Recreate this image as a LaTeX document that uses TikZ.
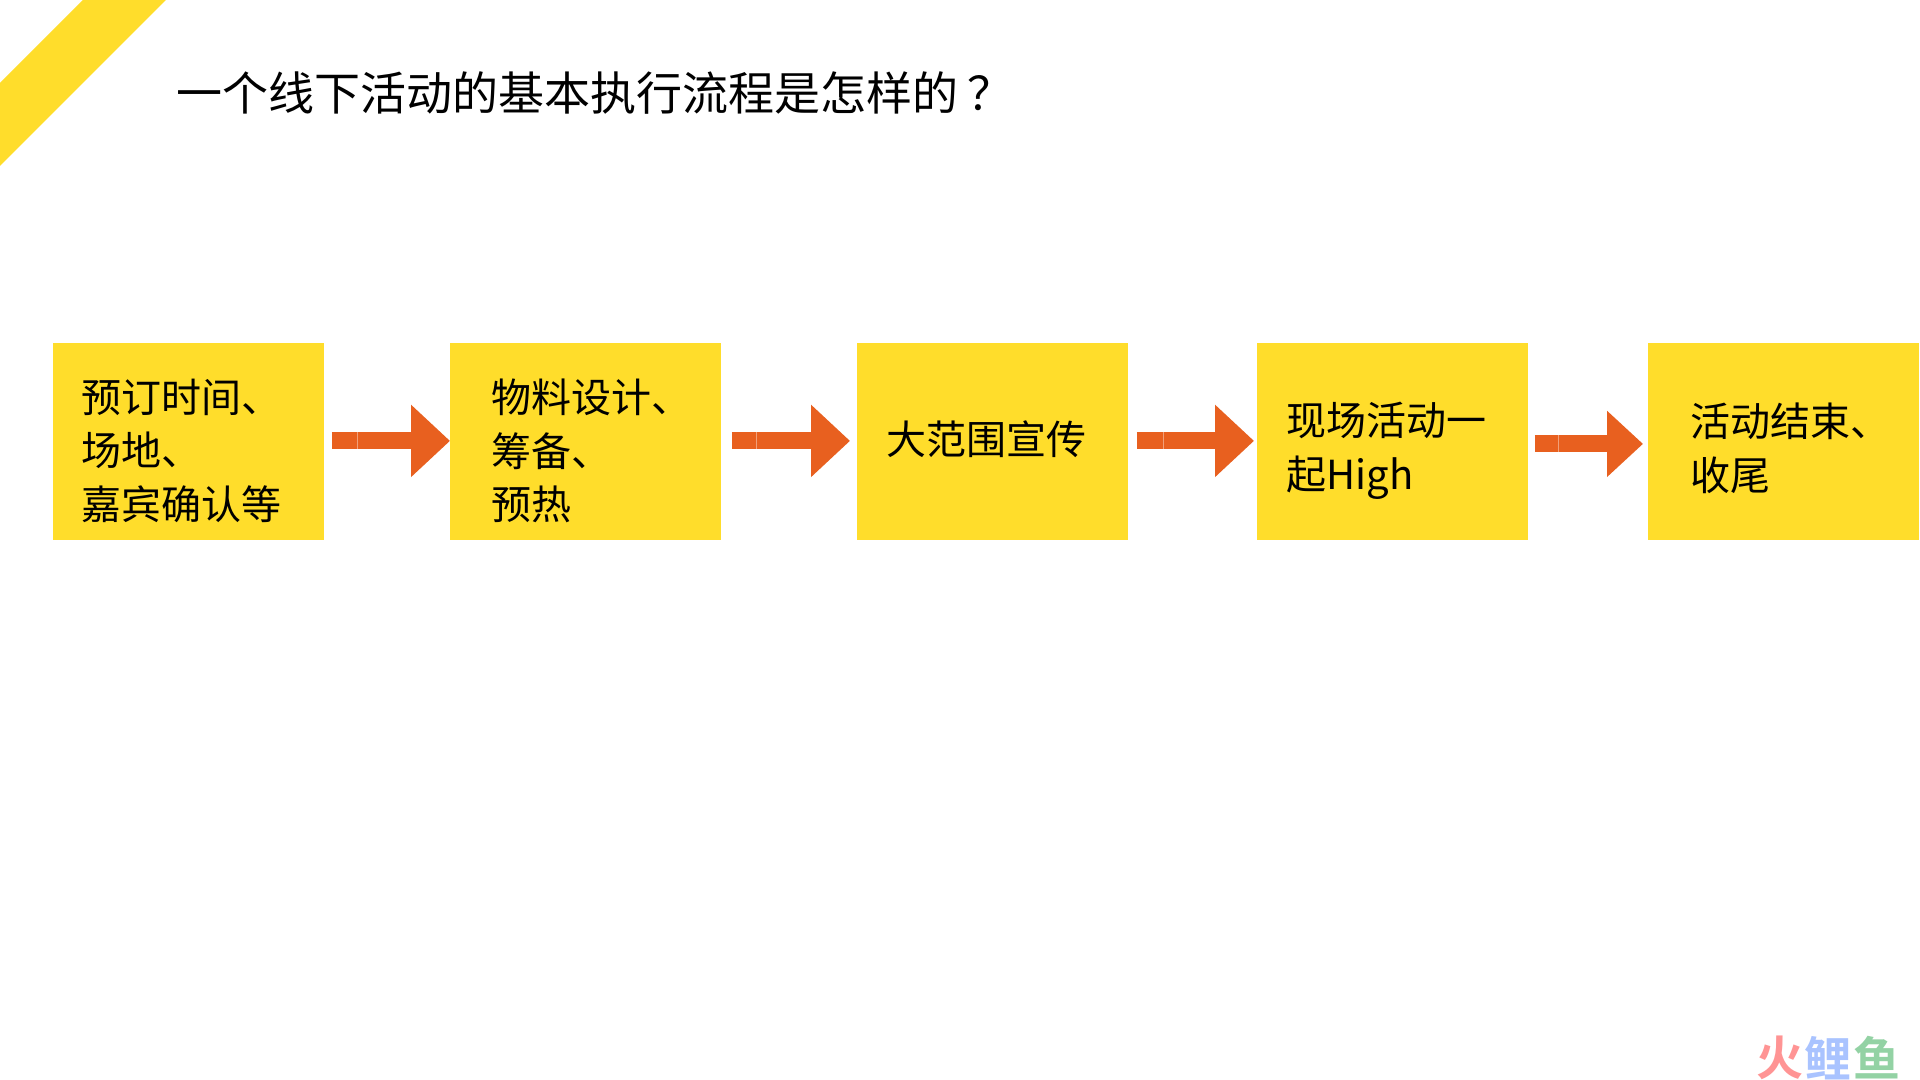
\documentclass[tikz,border=0pt]{standalone}
\usepackage{fontspec}
\setmainfont{Noto Sans CJK SC}
\newfontfamily\wmfont{Noto Sans CJK SC}[BoldFont={Noto Sans CJK SC Bold}]
\usetikzlibrary{arrows.meta,calc}
\definecolor{band}{HTML}{FFDD2B}
\definecolor{flow}{HTML}{E8601F}
\definecolor{wmred}{HTML}{FF9494}
\definecolor{wmblue}{HTML}{A9C3FF}
\definecolor{wmgreen}{HTML}{93D2A4}
\tikzset{
  x=0.5pt,y=-0.5pt,
  box/.style={fill=band,draw=none,minimum width=135.5pt,minimum height=98.5pt,inner sep=0pt,anchor=north west},
  boxtext/.style={anchor=west,align=left,inner sep=0pt,font=\fontsize{20}{26.7}\selectfont,text=black},
  flowarrow/.style={draw=flow,line width=8.5pt,-{Triangle[length=19.5pt,width=35pt,fill=flow]}},
  seam/.style={draw=white!40!flow,line width=0.3pt},
  wm/.style={inner sep=0pt,font=\wmfont\bfseries\fontsize{23.5}{24}\selectfont}
}
\begin{document}
\begin{tikzpicture}
\useasboundingbox (0,0) rectangle (1920,1080);
\fill[white] (0,0) rectangle (1920,1080);
\fill[band] (83,0) -- (166,0) -- (0,166) -- (0,83) -- cycle;
\node[anchor=west,inner sep=0pt,font=\fontsize{23}{28}\selectfont] (title) at (176,93) {一个线下活动的基本执行流程是怎样的\hspace{4.5pt}？};

\node[box] (b1) at (53,343) {};
\node[box] (b2) at (450,343) {};
\node[box] (b3) at (857,343) {};
\node[box] (b4) at (1257,343) {};
\node[box] (b5) at (1648,343) {};

\node[boxtext] (t1) at ($(b1.west)+(28,9)$) {预订时间、\\场地、\\嘉宾确认等};
\node[boxtext] (t2) at ($(b2.west)+(41,9)$) {物料设计、\\筹备、\\预热};
\node[boxtext] (t3) at ($(b3.west)+(29,-3)$) {大范围宣传};
\node[boxtext] (t4) at ($(b4.west)+(29,9)$) {现场活动一\\起High};
\node[boxtext] (t5) at ($(b5.west)+(42,6.5)$) {活动结束、\\收尾};

\draw[flowarrow] ($(b1.east)+(7,-1)$) -- ($(b2.west)+(0,-1)$);
\draw[flowarrow] ($(b2.east)+(10,-1)$) -- ($(b3.west)+(-7,-1)$);
\draw[flowarrow] ($(b3.east)+(8,-1)$) -- ($(b4.west)+(-3,-1)$);
\draw[flowarrow,-{Triangle[length=18pt,width=32pt,fill=flow]}] ($(b4.east)+(6,2)$) -- ($(b5.west)+(-5,2)$);

\draw[seam] ($(b1.east)+(32,-9.5)$) -- ++(0,17);
\draw[seam] ($(b2.east)+(34,-9.5)$) -- ++(0,17);
\draw[seam] ($(b3.east)+(34,-9.5)$) -- ++(0,17);
\draw[seam] ($(b4.east)+(29,-6.5)$) -- ++(0,17);

\node[wm,text=wmred] (w1) at (1780,1058) {火};
\node[wm,text=wmblue] (w2) at (1828,1058) {鲤};
\node[wm,text=wmgreen] (w3) at (1877,1058) {鱼};
\end{tikzpicture}
\end{document}
